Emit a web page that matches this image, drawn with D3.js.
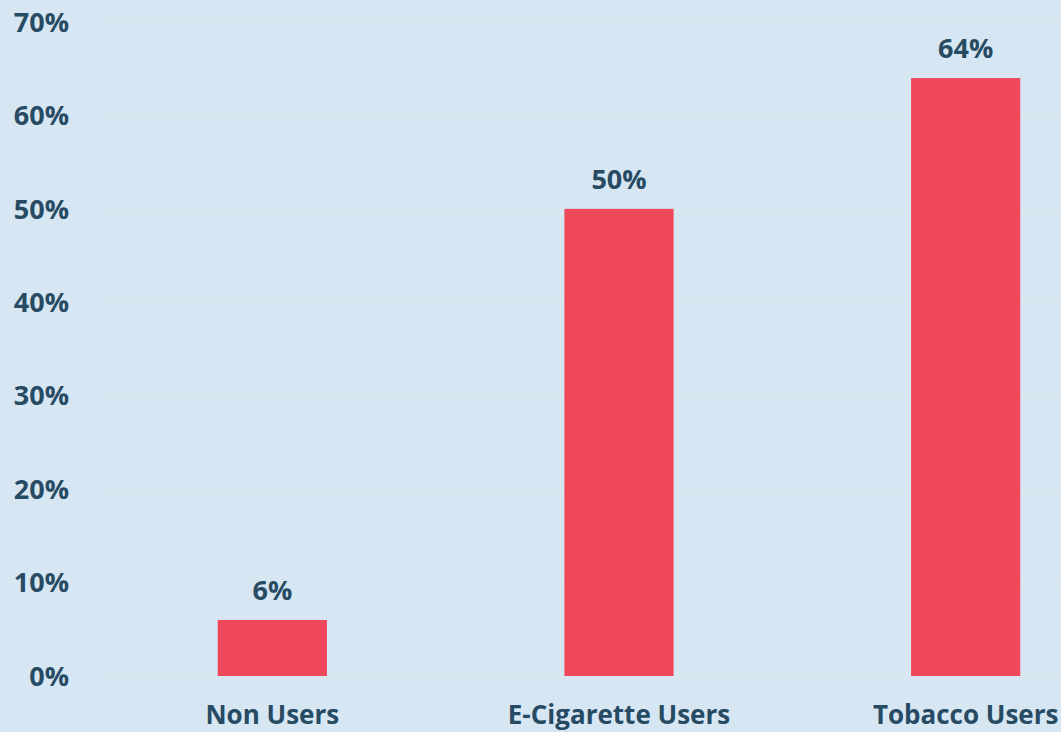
<!DOCTYPE html>
<html>
<head>
<meta charset="utf-8">
<script src="https://cdn.jsdelivr.net/npm/d3@7"></script>
<style>
  html, body { margin: 0; padding: 0; background: #d6e6f3; }
  svg { display: block; }
  text { font-family: "Open Sans", "DejaVu Sans", sans-serif; font-weight: 700; fill: #264b63; }
</style>
</head>
<body>
<svg id="chart" width="1061" height="732"></svg>
<script>
// Share of respondents in each group
const categories = ["Non Users", "E-Cigarette Users", "Tobacco Users"];
const values = [6, 50, 64];
const tickValues = [0, 10, 20, 30, 40, 50, 60, 70];

const width = 1061, height = 732;
const margin = { top: 22, left: 99, bottom: 56 };
const plotRight = 1139; // plot area runs slightly past the visible edge

const svg = d3.select("#chart");

svg.append("rect")
  .attr("width", width).attr("height", height)
  .attr("fill", "#d6e6f3");

const x = d3.scaleBand()
  .domain(categories)
  .range([margin.left, plotRight])
  .paddingInner(0.685)
  .paddingOuter(0.3425);

const y = d3.scaleLinear()
  .domain([0, 70])
  .range([height - margin.bottom, margin.top]);

// horizontal gridlines
svg.append("g")
  .selectAll("line")
  .data(tickValues)
  .join("line")
  .attr("x1", margin.left)
  .attr("x2", width)
  .attr("y1", d => Math.round(y(d)) + 0.5)
  .attr("y2", d => Math.round(y(d)) + 0.5)
  .attr("stroke", "#dbe9ef")
  .attr("stroke-width", 1.5);

// y-axis tick labels
svg.append("g")
  .selectAll("text")
  .data(tickValues)
  .join("text")
  .attr("x", 69)
  .attr("y", d => y(d))
  .attr("dy", "0.36em")
  .attr("text-anchor", "end")
  .style("font-size", "27px")
  .text(d => d + "%");

// bars
svg.append("g")
  .selectAll("rect")
  .data(values)
  .join("rect")
  .attr("x", (d, i) => x(categories[i]))
  .attr("width", x.bandwidth())
  .attr("y", d => y(d))
  .attr("height", d => y(0) - y(d))
  .attr("fill", "#f0485b");

// value labels above the bars
svg.append("g")
  .selectAll("text")
  .data(values)
  .join("text")
  .attr("x", (d, i) => x(categories[i]) + x.bandwidth() / 2)
  .attr("y", d => y(d) - 20)
  .attr("text-anchor", "middle")
  .style("font-size", "27px")
  .text(d => d + "%");

// category labels
svg.append("g")
  .selectAll("text")
  .data(categories)
  .join("text")
  .attr("x", d => x(d) + x.bandwidth() / 2)
  .attr("y", 724)
  .attr("text-anchor", "middle")
  .style("font-size", "26px")
  .text(d => d);
</script>
</body>
</html>
